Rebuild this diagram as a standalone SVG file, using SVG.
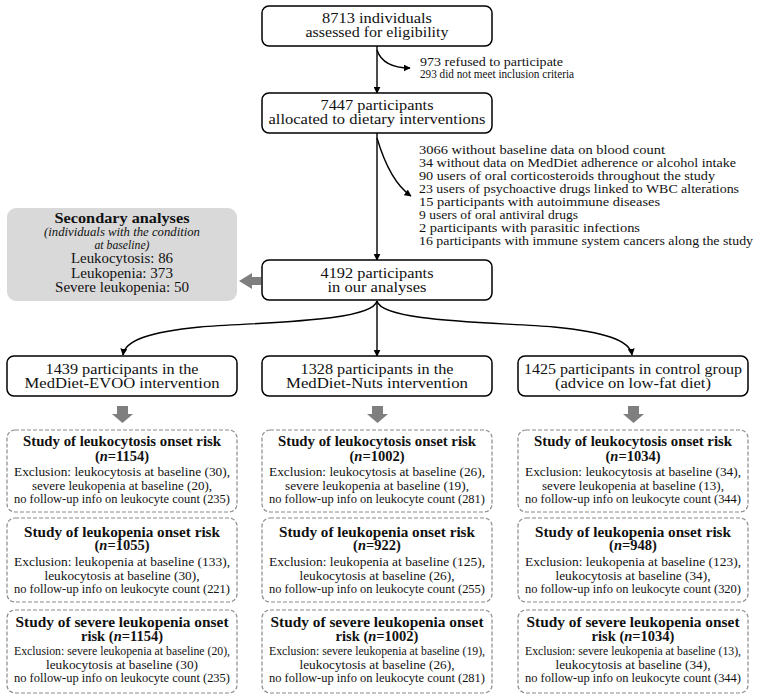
<svg xmlns="http://www.w3.org/2000/svg" width="763" height="699" viewBox="0 0 763 699">
<defs>
<marker id="ah" viewBox="0 0 10 10" refX="9" refY="5" markerWidth="7" markerHeight="7" markerUnits="userSpaceOnUse" orient="auto">
<path d="M0,0 L10,5 L0,10 z" fill="#000"/>
</marker>
<style>
text{font-family:"Liberation Serif","DejaVu Serif",serif;fill:#111;}
.box{fill:#fff;stroke:#000;stroke-width:1.5;}
.dash{fill:#fff;stroke:#8a8a8a;stroke-width:1.2;stroke-dasharray:4 2;}
.m{font-size:15px;text-anchor:middle;}
.s{font-size:13px;}
.t{font-size:14.5px;font-weight:bold;text-anchor:middle;}
.b{font-size:13px;text-anchor:middle;}
.i{font-style:italic;}
.ln{fill:none;stroke:#000;stroke-width:1.4;}
.ga{fill:#7f7f7f;}
</style>
</defs>
<rect width="763" height="699" fill="#fff"/>

<g id="connectors">
<path class="ln" d="M377,46 L377,93" marker-end="url(#ah)"/>
<path class="ln" d="M377,50 C381,62 392,68 410,68" marker-end="url(#ah)"/>
<path class="ln" d="M377,133 L377,260" marker-end="url(#ah)"/>
<path class="ln" d="M377,138 C385,165 395,185 411,196" marker-end="url(#ah)"/>
<path class="ln" d="M377,301 L377,356" marker-end="url(#ah)"/>
<path class="ln" d="M377,301 C372,322 262,322 200,327 C150,332 125,340 123,355" marker-end="url(#ah)"/>
<path class="ln" d="M377,301 C382,322 492,322 554,327 C604,332 630,340 632,355" marker-end="url(#ah)"/>
<path class="ga" d="M239,281 L252,273 L252,277 L261,277 L261,285 L252,285 L252,289 z"/>
<path class="ga" d="M117,406 L128,406 L128,414 L133,414 L122.5,423 L112,414 L117,414 z"/>
<path class="ga" d="M372,406 L383,406 L383,414 L388,414 L377.5,423 L367,414 L372,414 z"/>
<path class="ga" d="M628,406 L639,406 L639,414 L644,414 L633.5,423 L623,414 L628,414 z"/>
</g>

<g id="assessed">
<rect class="box" x="262" y="6" width="230" height="40" rx="7"/>
<text class="m" x="377" y="23" textLength="110" lengthAdjust="spacingAndGlyphs">8713 individuals</text>
<text class="m" x="377" y="37" textLength="143" lengthAdjust="spacingAndGlyphs">assessed for eligibility</text>
</g>

<g id="excluded1">
<text class="s" x="420" y="65.5" textLength="143" lengthAdjust="spacingAndGlyphs">973 refused to participate</text>
<text class="s" x="420" y="77.5" textLength="154" lengthAdjust="spacingAndGlyphs">293 did not meet inclusion criteria</text>
</g>

<g id="allocated">
<rect class="box" x="262" y="93" width="230" height="40" rx="7"/>
<text class="m" x="377" y="110" textLength="113" lengthAdjust="spacingAndGlyphs">7447 participants</text>
<text class="m" x="377" y="124" textLength="217" lengthAdjust="spacingAndGlyphs">allocated to dietary interventions</text>
</g>

<g id="excluded2">
<text class="s" x="419" y="154" textLength="246" lengthAdjust="spacingAndGlyphs">3066 without baseline data on blood count</text>
<text class="s" x="419" y="167" textLength="317" lengthAdjust="spacingAndGlyphs">34 without data on MedDiet adherence or alcohol intake</text>
<text class="s" x="419" y="180" textLength="296" lengthAdjust="spacingAndGlyphs">90 users of oral corticosteroids throughout the study</text>
<text class="s" x="419" y="193" textLength="320" lengthAdjust="spacingAndGlyphs">23 users of psychoactive drugs linked to WBC alterations</text>
<text class="s" x="419" y="206" textLength="241" lengthAdjust="spacingAndGlyphs">15 participants with autoimmune diseases</text>
<text class="s" x="419" y="219" textLength="159" lengthAdjust="spacingAndGlyphs">9 users of oral antiviral drugs</text>
<text class="s" x="419" y="232" textLength="221" lengthAdjust="spacingAndGlyphs">2 participants with parasitic infections</text>
<text class="s" x="419" y="245" textLength="334" lengthAdjust="spacingAndGlyphs">16 participants with immune system cancers along the study</text>
</g>

<g id="secondary">
<rect x="7" y="208" width="230" height="93" rx="9" fill="#d9d9d9"/>
<text class="t" x="122" y="223" textLength="135" lengthAdjust="spacingAndGlyphs">Secondary analyses</text>
<text class="b i" x="122" y="236" textLength="156" lengthAdjust="spacingAndGlyphs">(individuals with the condition</text>
<text class="b i" x="122" y="248.5" textLength="55" lengthAdjust="spacingAndGlyphs">at baseline)</text>
<text class="m" x="122" y="263" textLength="102" lengthAdjust="spacingAndGlyphs">Leukocytosis: 86</text>
<text class="m" x="122" y="277.5" textLength="102" lengthAdjust="spacingAndGlyphs">Leukopenia: 373</text>
<text class="m" x="122" y="292" textLength="134" lengthAdjust="spacingAndGlyphs">Severe leukopenia: 50</text>
</g>

<g id="analyses">
<rect class="box" x="262" y="260" width="230" height="40" rx="7"/>
<text class="m" x="377" y="277.5" textLength="113" lengthAdjust="spacingAndGlyphs">4192 participants</text>
<text class="m" x="377" y="291.5" textLength="99" lengthAdjust="spacingAndGlyphs">in our analyses</text>
</g>

<g id="evoo">
<rect class="box" x="7" y="356" width="230" height="40" rx="7"/>
<text class="m" x="122" y="374" textLength="153" lengthAdjust="spacingAndGlyphs">1439 participants in the</text>
<text class="m" x="122" y="387.5" textLength="195" lengthAdjust="spacingAndGlyphs">MedDiet-EVOO intervention</text>
</g>

<g id="nuts">
<rect class="box" x="262" y="356" width="230" height="40" rx="7"/>
<text class="m" x="377" y="374" textLength="153" lengthAdjust="spacingAndGlyphs">1328 participants in the</text>
<text class="m" x="377" y="387.5" textLength="182" lengthAdjust="spacingAndGlyphs">MedDiet-Nuts intervention</text>
</g>

<g id="control">
<rect class="box" x="518" y="356" width="230" height="40" rx="7"/>
<text class="m" x="633" y="374" textLength="218" lengthAdjust="spacingAndGlyphs">1425 participants in control group</text>
<text class="m" x="633" y="387.5" textLength="156" lengthAdjust="spacingAndGlyphs">(advice on low-fat diet)</text>
</g>

<!-- Column 1 -->
<g id="evoo-leukocytosis">
<rect class="dash" x="7" y="430" width="230" height="82" rx="8"/>
<text class="t" x="122" y="446" textLength="198" lengthAdjust="spacingAndGlyphs">Study of leukocytosis onset risk</text>
<text class="t" x="122" y="460.5">(<tspan class="i">n</tspan>=1154)</text>
<text class="b" x="122" y="476" textLength="216" lengthAdjust="spacingAndGlyphs">Exclusion: leukocytosis at baseline (30),</text>
<text class="b" x="122" y="489.5" textLength="180" lengthAdjust="spacingAndGlyphs">severe leukopenia at baseline (20),</text>
<text class="b" x="122" y="503" textLength="216" lengthAdjust="spacingAndGlyphs">no follow-up info on leukocyte count (235)</text>
</g>
<g id="evoo-leukopenia">
<rect class="dash" x="7" y="518" width="230" height="84" rx="8"/>
<text class="t" x="122" y="536.5" textLength="196" lengthAdjust="spacingAndGlyphs">Study of leukopenia onset risk</text>
<text class="t" x="122" y="549.5">(<tspan class="i">n</tspan>=1055)</text>
<text class="b" x="122" y="565.5" textLength="216" lengthAdjust="spacingAndGlyphs">Exclusion: leukopenia at baseline (133),</text>
<text class="b" x="122" y="579.5" textLength="155" lengthAdjust="spacingAndGlyphs">leukocytosis at baseline (30),</text>
<text class="b" x="122" y="593" textLength="216" lengthAdjust="spacingAndGlyphs">no follow-up info on leukocyte count (221)</text>
</g>
<g id="evoo-severe">
<rect class="dash" x="7" y="610" width="230" height="83" rx="8"/>
<text class="t" x="122" y="627" textLength="213" lengthAdjust="spacingAndGlyphs">Study of severe leukopenia onset</text>
<text class="t" x="122" y="640.5">risk (<tspan class="i">n</tspan>=1154)</text>
<text class="b" x="122" y="654.5" textLength="216" lengthAdjust="spacingAndGlyphs">Exclusion: severe leukopenia at baseline (20),</text>
<text class="b" x="122" y="668.5" textLength="152" lengthAdjust="spacingAndGlyphs">leukocytosis at baseline (30)</text>
<text class="b" x="122" y="682" textLength="216" lengthAdjust="spacingAndGlyphs">no follow-up info on leukocyte count (235)</text>
</g>

<!-- Column 2 -->
<g id="nuts-leukocytosis">
<rect class="dash" x="262" y="430" width="230" height="82" rx="8"/>
<text class="t" x="377" y="446" textLength="198" lengthAdjust="spacingAndGlyphs">Study of leukocytosis onset risk</text>
<text class="t" x="377" y="460.5">(<tspan class="i">n</tspan>=1002)</text>
<text class="b" x="377" y="476" textLength="216" lengthAdjust="spacingAndGlyphs">Exclusion: leukocytosis at baseline (26),</text>
<text class="b" x="377" y="489.5" textLength="184" lengthAdjust="spacingAndGlyphs">severe leukopenia at baseline (19),</text>
<text class="b" x="377" y="503" textLength="216" lengthAdjust="spacingAndGlyphs">no follow-up info on leukocyte count (281)</text>
</g>
<g id="nuts-leukopenia">
<rect class="dash" x="262" y="518" width="230" height="84" rx="8"/>
<text class="t" x="377" y="536.5" textLength="196" lengthAdjust="spacingAndGlyphs">Study of leukopenia onset risk</text>
<text class="t" x="377" y="549.5">(<tspan class="i">n</tspan>=922)</text>
<text class="b" x="377" y="565.5" textLength="216" lengthAdjust="spacingAndGlyphs">Exclusion: leukopenia at baseline (125),</text>
<text class="b" x="377" y="579.5" textLength="155" lengthAdjust="spacingAndGlyphs">leukocytosis at baseline (26),</text>
<text class="b" x="377" y="593" textLength="216" lengthAdjust="spacingAndGlyphs">no follow-up info on leukocyte count (255)</text>
</g>
<g id="nuts-severe">
<rect class="dash" x="262" y="610" width="230" height="83" rx="8"/>
<text class="t" x="377" y="627" textLength="213" lengthAdjust="spacingAndGlyphs">Study of severe leukopenia onset</text>
<text class="t" x="377" y="640.5">risk (<tspan class="i">n</tspan>=1002)</text>
<text class="b" x="377" y="654.5" textLength="216" lengthAdjust="spacingAndGlyphs">Exclusion: severe leukopenia at baseline (19),</text>
<text class="b" x="377" y="668.5" textLength="155" lengthAdjust="spacingAndGlyphs">leukocytosis at baseline (26),</text>
<text class="b" x="377" y="682" textLength="216" lengthAdjust="spacingAndGlyphs">no follow-up info on leukocyte count (281)</text>
</g>

<!-- Column 3 -->
<g id="control-leukocytosis">
<rect class="dash" x="518" y="430" width="230" height="82" rx="8"/>
<text class="t" x="633" y="446" textLength="198" lengthAdjust="spacingAndGlyphs">Study of leukocytosis onset risk</text>
<text class="t" x="633" y="460.5">(<tspan class="i">n</tspan>=1034)</text>
<text class="b" x="633" y="476" textLength="216" lengthAdjust="spacingAndGlyphs">Exclusion: leukocytosis at baseline (34),</text>
<text class="b" x="633" y="489.5" textLength="182" lengthAdjust="spacingAndGlyphs">severe leukopenia at baseline (13),</text>
<text class="b" x="633" y="503" textLength="216" lengthAdjust="spacingAndGlyphs">no follow-up info on leukocyte count (344)</text>
</g>
<g id="control-leukopenia">
<rect class="dash" x="518" y="518" width="230" height="84" rx="8"/>
<text class="t" x="633" y="536.5" textLength="196" lengthAdjust="spacingAndGlyphs">Study of leukopenia onset risk</text>
<text class="t" x="633" y="549.5">(<tspan class="i">n</tspan>=948)</text>
<text class="b" x="633" y="565.5" textLength="216" lengthAdjust="spacingAndGlyphs">Exclusion: leukopenia at baseline (123),</text>
<text class="b" x="633" y="579.5" textLength="155" lengthAdjust="spacingAndGlyphs">leukocytosis at baseline (34),</text>
<text class="b" x="633" y="593" textLength="216" lengthAdjust="spacingAndGlyphs">no follow-up info on leukocyte count (320)</text>
</g>
<g id="control-severe">
<rect class="dash" x="518" y="610" width="230" height="83" rx="8"/>
<text class="t" x="633" y="627" textLength="213" lengthAdjust="spacingAndGlyphs">Study of severe leukopenia onset</text>
<text class="t" x="633" y="640.5">risk (<tspan class="i">n</tspan>=1034)</text>
<text class="b" x="633" y="654.5" textLength="216" lengthAdjust="spacingAndGlyphs">Exclusion: severe leukopenia at baseline (13),</text>
<text class="b" x="633" y="668.5" textLength="155" lengthAdjust="spacingAndGlyphs">leukocytosis at baseline (34),</text>
<text class="b" x="633" y="682" textLength="216" lengthAdjust="spacingAndGlyphs">no follow-up info on leukocyte count (344)</text>
</g>
</svg>
